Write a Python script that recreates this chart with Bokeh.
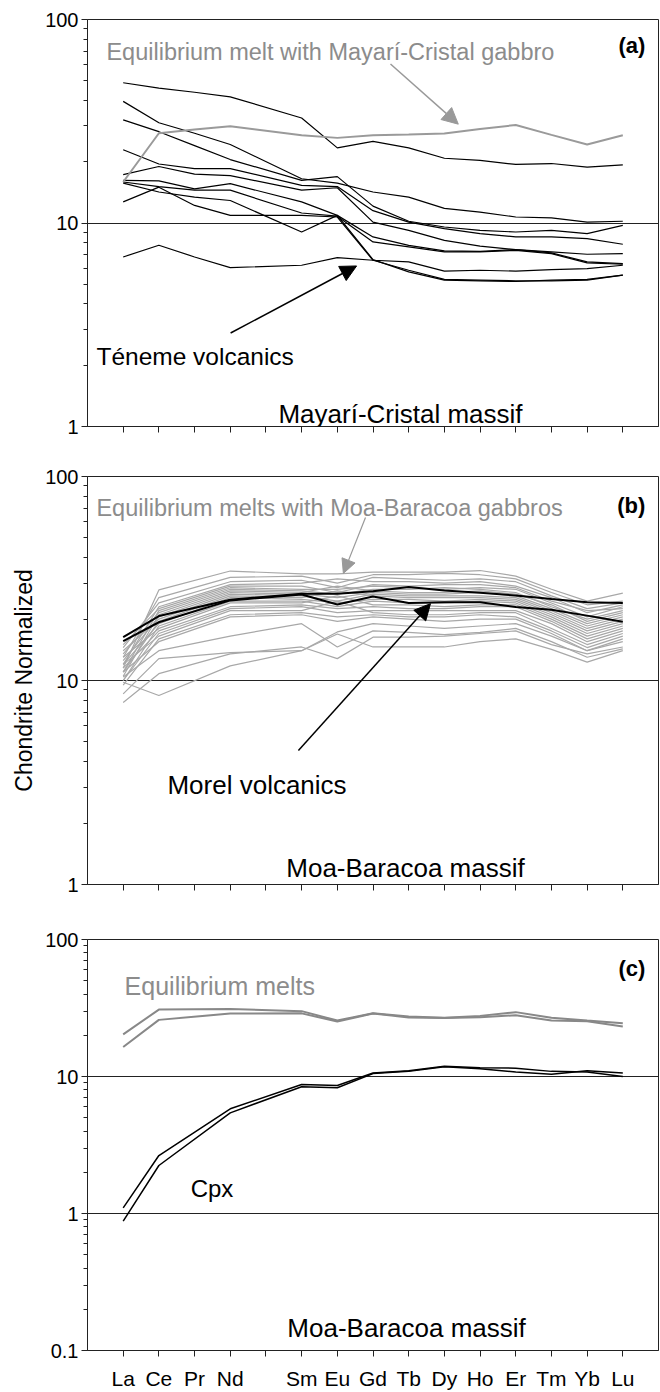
from bokeh.plotting import figure
from bokeh.layouts import column
from bokeh.models import (FixedTicker, Label, Arrow, NormalHead, Range1d,
                          CustomJSTickFormatter)
from bokeh.embed import file_html
from bokeh.resources import INLINE

FONT = "Liberation Sans"

# ---------------- categories ----------------
ELEMENTS = ["La", "Ce", "Pr", "Nd", "Pm", "Sm", "Eu", "Gd", "Tb", "Dy", "Ho", "Er", "Tm", "Yb", "Lu"]
TICK_LABELS = ["La", "Ce", "Pr", "Nd", "", "Sm", "Eu", "Gd", "Tb", "Dy", "Ho", "Er", "Tm", "Yb", "Lu"]
REE_A = ["La", "Ce", "Pr", "Nd", "Sm", "Eu", "Gd", "Tb", "Dy", "Ho", "Er", "Tm", "Yb", "Lu"]
REE_BC = ["La", "Ce", "Nd", "Sm", "Eu", "Gd", "Tb", "Dy", "Ho", "Er", "Tm", "Yb", "Lu"]

# ---------------- panel (a): Mayari-Cristal ----------------
melt_a = [15.9, 27.6, 28.8, 29.9, 27.0, 26.2, 27.0, 27.2, 27.5, 29.0, 30.3, 27.1, 24.3, 27.0]
teneme_1 = [48.9, 46.0, 43.9, 41.7, 32.8, 23.4, 25.2, 23.4, 20.8, 20.3, 19.4, 19.6, 18.8, 19.3]
teneme_2 = [39.6, 31.1, 27.6, 24.3, 16.5, 15.7, 14.2, 13.4, 11.8, 11.3, 10.7, 10.6, 10.1, 10.2]
teneme_3 = [32.1, 28.1, 24.0, 20.5, 16.2, 16.9, 12.1, 10.2, 9.56, 9.20, 9.03, 9.20, 8.87, 9.74]
teneme_4 = [22.9, 19.5, 18.5, 18.5, 15.3, 15.1, 11.5, 10.1, 9.38, 8.87, 8.54, 8.54, 8.38, 7.86]
teneme_5 = [17.3, 18.95, 17.4, 17.1, 14.5, 14.9, 10.1, 9.20, 8.22, 7.69, 7.40, 7.21, 7.02, 7.07]
teneme_6 = [16.2, 16.1, 14.7, 15.6, 12.7, 10.9, 8.54, 7.77, 7.29, 7.26, 7.40, 7.13, 6.44, 6.32]
teneme_7 = [15.9, 15.1, 14.5, 14.5, 11.2, 10.8, 8.07, 7.63, 7.21, 7.21, 7.34, 7.07, 6.37, 6.27]
teneme_8 = [15.7, 14.2, 13.4, 12.9, 9.03, 10.9, 6.61, 5.75, 5.24, 5.20, 5.16, 5.24, 5.28, 5.54]
teneme_9 = [12.7, 15.0, 12.2, 10.9, 10.9, 10.7, 6.56, 5.86, 5.28, 5.24, 5.20, 5.20, 5.24, 5.54]
teneme_10 = [6.81, 7.77, 6.81, 6.04, 6.20, 6.76, 6.56, 6.44, 5.80, 5.86, 5.80, 5.90, 5.97, 6.20]
TENEME = [teneme_1, teneme_2, teneme_3, teneme_4, teneme_5, teneme_6, teneme_7,
          teneme_8, teneme_9, teneme_10]

# ---------------- panel (b): Moa-Baracoa ----------------
melt_b1 = [11.5, 27.8, 34.4, 33.3, 33.3, 34.0, 34.0, 34.0, 34.6, 32.5, 28.0, 24.5, 26.8]
melt_b2 = [13.0, 25.5, 32.0, 32.5, 30.0, 33.0, 33.0, 33.5, 33.0, 31.5, 27.0, 23.5, 24.5]
melt_b3 = [14.5, 24.0, 30.5, 31.0, 28.5, 32.0, 31.5, 31.0, 31.5, 30.5, 26.0, 22.5, 24.0]
melt_b4 = [12.0, 23.0, 29.5, 30.0, 31.5, 30.5, 30.5, 30.0, 30.5, 29.0, 25.5, 21.5, 23.5]
melt_b5 = [15.0, 22.5, 29.0, 29.0, 27.0, 29.5, 29.0, 29.5, 29.5, 28.5, 24.5, 22.0, 22.5]
melt_b6 = [11.0, 22.0, 28.5, 28.0, 28.0, 29.0, 28.5, 28.0, 28.5, 28.0, 24.0, 20.5, 23.0]
melt_b7 = [13.5, 21.5, 28.0, 27.5, 26.5, 28.0, 28.0, 28.5, 28.0, 27.0, 23.0, 20.0, 22.0]
melt_b8 = [10.5, 21.0, 27.5, 27.0, 29.0, 27.5, 27.0, 27.0, 27.5, 26.5, 23.5, 19.5, 21.5]
melt_b9 = [12.5, 20.5, 27.0, 26.5, 25.5, 27.0, 26.5, 26.5, 27.0, 26.0, 22.5, 19.0, 21.0]
melt_b10 = [14.0, 20.0, 26.5, 26.0, 24.5, 26.5, 26.0, 26.0, 26.0, 25.5, 22.0, 18.5, 20.5]
melt_b11 = [11.0, 19.5, 26.0, 25.5, 27.5, 26.0, 25.5, 25.5, 25.5, 25.0, 21.5, 18.0, 20.0]
melt_b12 = [12.0, 19.0, 25.5, 25.0, 24.0, 25.0, 25.0, 24.5, 25.0, 24.5, 21.0, 17.5, 19.5]
melt_b13 = [10.0, 18.5, 24.5, 24.5, 23.0, 24.5, 24.0, 24.0, 24.5, 24.0, 20.5, 17.0, 19.0]
melt_b14 = [13.0, 18.0, 24.0, 24.0, 26.0, 23.5, 23.5, 23.0, 23.5, 23.5, 20.0, 16.5, 18.5]
melt_b15 = [11.5, 17.5, 23.0, 23.5, 22.5, 23.0, 22.5, 22.5, 23.0, 23.0, 19.5, 16.0, 18.0]
melt_b16 = [10.0, 17.0, 22.5, 23.0, 21.5, 22.0, 22.0, 22.0, 22.0, 22.0, 19.0, 15.5, 17.5]
melt_b17 = [12.0, 16.5, 22.0, 22.0, 24.5, 21.5, 21.0, 21.0, 21.5, 21.5, 18.0, 15.0, 17.0]
melt_b18 = [9.5, 16.0, 21.0, 21.5, 20.5, 21.0, 20.5, 20.5, 21.0, 20.5, 17.5, 14.5, 16.5]
melt_b19 = [11.0, 15.5, 20.5, 21.0, 19.5, 20.5, 20.0, 19.5, 20.0, 20.0, 17.0, 14.0, 16.0]
melt_b20 = [9.8, 8.44, 11.8, 14.0, 17.3, 19.0, 18.5, 18.0, 18.5, 19.0, 16.5, 14.0, 15.5]
melt_b21 = [7.8, 10.8, 13.5, 14.6, 12.8, 16.3, 16.3, 16.5, 17.0, 17.5, 15.0, 13.5, 14.6]
melt_b22 = [8.6, 12.8, 13.7, 14.0, 16.9, 14.6, 14.6, 14.6, 15.5, 16.0, 14.2, 12.3, 14.0]
melt_b23 = [10.4, 14.0, 16.5, 19.0, 14.6, 17.5, 17.2, 16.8, 17.2, 18.0, 15.5, 13.0, 14.3]
MELTS_B = [melt_b1, melt_b2, melt_b3, melt_b4, melt_b5, melt_b6, melt_b7, melt_b8,
           melt_b9, melt_b10, melt_b11, melt_b12, melt_b13, melt_b14, melt_b15,
           melt_b16, melt_b17, melt_b18, melt_b19, melt_b20, melt_b21, melt_b22, melt_b23]
morel_1 = [16.3, 20.7, 24.9, 26.6, 26.6, 27.4, 28.7, 27.6, 26.9, 26.1, 25.1, 24.2, 24.0]
morel_2 = [15.6, 19.3, 24.7, 26.4, 23.6, 25.8, 24.0, 24.2, 24.2, 22.9, 22.2, 20.8, 19.4]

# ---------------- panel (c): Moa-Baracoa cpx ----------------
melt_c1 = [20.3, 30.8, 31.1, 30.0, 25.6, 29.0, 27.4, 26.8, 27.7, 29.5, 26.8, 25.6, 24.5]
melt_c2 = [16.4, 25.9, 28.8, 28.9, 25.2, 28.8, 27.0, 26.7, 27.1, 28.0, 25.6, 25.3, 23.2]
cpx_1 = [1.10, 2.65, 5.81, 8.74, 8.60, 10.6, 11.0, 11.9, 11.6, 11.5, 10.9, 10.8, 10.0]
cpx_2 = [0.88, 2.24, 5.43, 8.42, 8.27, 10.5, 10.9, 11.8, 11.4, 10.8, 10.4, 11.0, 10.6]


def xs(names):
    return [ELEMENTS.index(n) for n in names]


def make_panel(height, top, bottom, ylo, yhi, decades, grid, show_x_labels, ylabel=None):
    p = figure(width=660, height=height, x_range=Range1d(-1, 15), y_range=Range1d(ylo, yhi),
               y_axis_type="log", output_backend="svg", toolbar_location=None,
               min_border_left=87, min_border_right=2, min_border_top=top,
               min_border_bottom=bottom)
    p.background_fill_color = "white"
    p.border_fill_color = "white"
    p.outline_line_color = "#222222"
    p.outline_line_width = 1
    p.xgrid.visible = False
    p.ygrid.ticker = FixedTicker(ticks=grid)
    p.ygrid.grid_line_color = "#222222"
    p.ygrid.grid_line_width = 1
    p.ygrid.grid_line_alpha = 1.0

    minor = []
    d = ylo
    while d < yhi:
        for k in range(2, 10):
            minor.append(d * k)
        d *= 10
    ax = p.yaxis[0]
    ax.ticker = FixedTicker(ticks=decades, minor_ticks=minor)
    ax.formatter = CustomJSTickFormatter(code="return String(tick);")
    ax.major_tick_in = 0
    ax.major_tick_out = 6
    ax.minor_tick_in = 0
    ax.minor_tick_out = 4
    ax.axis_line_color = "#222222"
    ax.major_tick_line_color = "#222222"
    ax.minor_tick_line_color = "#222222"
    ax.major_label_text_font = FONT
    ax.major_label_text_font_size = "20px"
    ax.major_label_text_color = "black"
    ax.major_label_standoff = 3
    if ylabel:
        ax.axis_label = ylabel
        ax.axis_label_text_font = FONT
        ax.axis_label_text_font_size = "23px"
        ax.axis_label_text_font_style = "normal"
        ax.axis_label_text_color = "black"
        ax.axis_label_standoff = 5

    xa = p.xaxis[0]
    xa.minor_tick_in = 0
    xa.minor_tick_out = 6
    xa.major_tick_in = 0
    xa.major_tick_out = 6
    xa.axis_line_color = "#222222"
    xa.major_tick_line_color = "#222222"
    xa.minor_tick_line_color = "#222222"
    if show_x_labels:
        xa.ticker = FixedTicker(ticks=list(range(len(ELEMENTS))))
        xa.major_label_overrides = {i: lab for i, lab in enumerate(TICK_LABELS)}
        xa.minor_tick_line_color = None
        xa.major_label_text_font = FONT
        xa.major_label_text_font_size = "21px"
        xa.major_label_text_color = "black"
        xa.major_label_standoff = 10
    else:
        # tick marks only, no labels: draw them as minor ticks
        xa.ticker = FixedTicker(ticks=[], minor_ticks=list(range(len(ELEMENTS))))
    return p


def label(p, x, y, text, size, color="black", align="left", bold=False):
    p.add_layout(Label(x=x, y=y, text=text, text_font=FONT, text_font_size=size,
                       text_color=color, text_align=align, text_baseline="alphabetic",
                       text_font_style="bold" if bold else "normal"))


def arrow(p, x0, y0, x1, y1, color, width, head):
    p.add_layout(Arrow(end=NormalHead(size=head, fill_color=color, line_color=color, line_width=1),
                       x_start=x0, y_start=y0, x_end=x1, y_end=y1,
                       line_color=color, line_width=width))


# ---------------- panel (a) ----------------
pa = make_panel(456, 19, 30, 1, 100, [1, 10, 100], [10], False)
for s in TENEME:
    pa.line(xs(REE_A), s, line_color="black", line_width=1.2)
pa.line(xs(REE_A), melt_a, line_color="#9a9a9a", line_width=2)
label(pa, -0.47, 69.2, "Equilibrium melt with Mayarí-Cristal gabbro", "23.5px", "#8c8c8c")
label(pa, 14.63, 74.1, "(a)", "22px", "black", "right", True)
label(pa, -0.75, 2.22, "Téneme volcanics", "24.5px")
label(pa, 4.35, 1.152, "Mayarí-Cristal massif", "26px")
arrow(pa, 7.49, 60.4, 9.39, 30.6, "#999999", 1.5, 16)
arrow(pa, 3.01, 2.88, 6.54, 6.15, "black", 1.5, 16)

# ---------------- panel (b) ----------------
pb = make_panel(453, 20, 25, 1, 100, [1, 10, 100], [10], False, "Chondrite Normalized")
for s in MELTS_B:
    pb.line(xs(REE_BC), s, line_color="#a8a8a8", line_width=1.2)
pb.line(xs(REE_BC), morel_1, line_color="black", line_width=2)
pb.line(xs(REE_BC), morel_2, line_color="black", line_width=2)
label(pb, -0.75, 69.7, "Equilibrium melts with Moa-Baracoa gabbros", "23.5px", "#8c8c8c")
label(pb, 14.63, 72.1, "(b)", "22px", "black", "right", True)
label(pb, 1.24, 3.09, "Morel volcanics", "26px")
label(pb, 4.57, 1.198, "Moa-Baracoa massif", "26px")
arrow(pb, 6.79, 63.0, 6.17, 33.5, "#999999", 1.2, 14)
arrow(pb, 4.91, 4.54, 8.61, 23.8, "black", 1.5, 16)

# ---------------- panel (c) ----------------
pc = make_panel(483, 30, 42, 0.1, 100, [0.1, 1, 10, 100], [1, 10], True)
pc.line(xs(REE_BC), melt_c1, line_color="#888888", line_width=2)
pc.line(xs(REE_BC), melt_c2, line_color="#888888", line_width=2)
pc.line(xs(REE_BC), cpx_1, line_color="black", line_width=1.5)
pc.line(xs(REE_BC), cpx_2, line_color="black", line_width=1.5)
label(pc, 0.04, 46.1, "Equilibrium melts", "25px", "#8c8c8c")
label(pc, 14.63, 61.4, "(c)", "22px", "black", "right", True)
label(pc, 1.89, 1.52, "Cpx", "24px")
label(pc, 4.60, 0.147, "Moa-Baracoa massif", "26px")

layout = column(pa, pb, pc, spacing=0)
open("out.html", "w").write(file_html(layout, INLINE))
